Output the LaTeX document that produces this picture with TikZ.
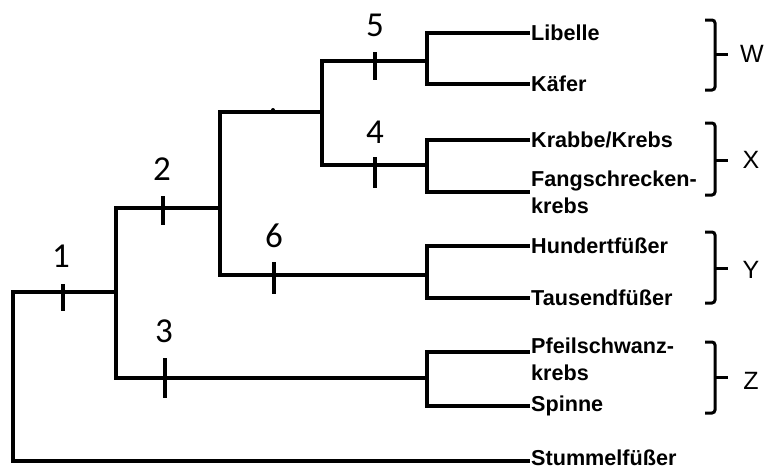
\documentclass[tikz,border=0pt]{standalone}
\usepackage{fontspec}
\setmainfont{Liberation Sans}
\newfontfamily\numfont{Carlito}
\begin{document}
\begin{tikzpicture}[x=1pt,y=-1pt,
  branch/.style={line width=3.1pt,line cap=rect},
  tick/.style={line width=3.1pt},
  leaf/.style={anchor=west,inner xsep=3pt,inner ysep=0pt,align=left,
    font=\bfseries\fontsize{21.6}{27}\selectfont},
  num/.style={inner sep=0pt,font=\numfont\fontsize{35}{35}\selectfont},
  brk/.style={line width=3pt,rounded corners=3pt},
  grp/.style={inner sep=0pt,font=\fontsize{25}{25}\selectfont}]
\fill[white] (0,0) rectangle (770,471);
\useasboundingbox (0,0) rectangle (770,471);

% inner junctions of the tree
\coordinate (root) at (13,292);
\coordinate (a) at (116,292);
\coordinate (b) at (220,208);
\coordinate (c) at (322,112);
\coordinate (w) at (427,61);
\coordinate (x) at (427,165);
\coordinate (y) at (427,275);
\coordinate (z) at (427,378);

% taxa
\node[leaf] (libelle) at (528,33) {Libelle};
\node[leaf] (kaefer) at (528,84) {Käfer};
\node[leaf] (krabbe) at (528,140) {Krabbe/Krebs};
\node[leaf] (fang) at (528,192) {Fangschrecken-\\krebs};
\node[leaf] (hundert) at (528,246) {Hundertfüßer};
\node[leaf] (tausend) at (528,298) {Tausendfüßer};
\node[leaf] (pfeil) at (528,359) {Pfeilschwanz-\\krebs};
\node[leaf] (spinne) at (528,406) {Spinne};
\node[leaf] (stummel) at (528,458) {Stummelfüßer};

% branches
\draw[branch] (root) -- (a);
\draw[branch] (root) |- ([yshift=-3pt]stummel.west);
\draw[branch] (a) |- (b);
\draw[branch] (a) |- (z);
\draw[branch] (b) |- (c);
\draw[branch] (b) |- (y);
\draw[branch] (c) |- (w);
\draw[branch] (c) |- (x);
\draw[branch] (w) |- (libelle.west);
\draw[branch] (w) |- (kaefer.west);
\draw[branch] (x) |- (krabbe.west);
\draw[branch] (x) |- (fang.west);
\draw[branch] (y) |- (hundert.west);
\draw[branch] (y) |- (tausend.west);
\draw[branch] (z) |- ([yshift=7pt]pfeil.west);
\draw[branch] (z) |- (spinne.west);
\fill (273,110) circle (2pt);

% character ticks and their numbers
\draw[tick] (63,284) -- (63,311);
\draw[tick] (163,196) -- (163,225);
\draw[tick] (165,358) -- (165,398);
\draw[tick] (274,262) -- (274,294);
\draw[tick] (375,52) -- (375,80);
\draw[tick] (375,157) -- (375,188);
\node[num] (n1) at (61,256) {1};
\node[num] (n2) at (162,169) {2};
\node[num] (n3) at (164,331) {3};
\node[num] (n6) at (274,236) {6};
\node[num] (n5) at (375,25) {5};
\node[num] (n4) at (375,132) {4};

% group brackets
\draw[brk] (705,20) -- (715,20) -- (715,90) -- (705,90);
\draw[brk] (715,54) -- (728,54);
\node[grp] (gw) at (752,54) {W};
\draw[brk] (705,123) -- (715,123) -- (715,195) -- (705,195);
\draw[brk] (715,160) -- (728,160);
\node[grp] (gx) at (751,160) {X};
\draw[brk] (705,232) -- (715,232) -- (715,303) -- (705,303);
\draw[brk] (715,268) -- (728,268);
\node[grp] (gy) at (751,270) {Y};
\draw[brk] (705,342) -- (715,342) -- (715,413) -- (705,413);
\draw[brk] (715,377) -- (728,377);
\node[grp] (gz) at (751,381) {Z};
\end{tikzpicture}
\end{document}
